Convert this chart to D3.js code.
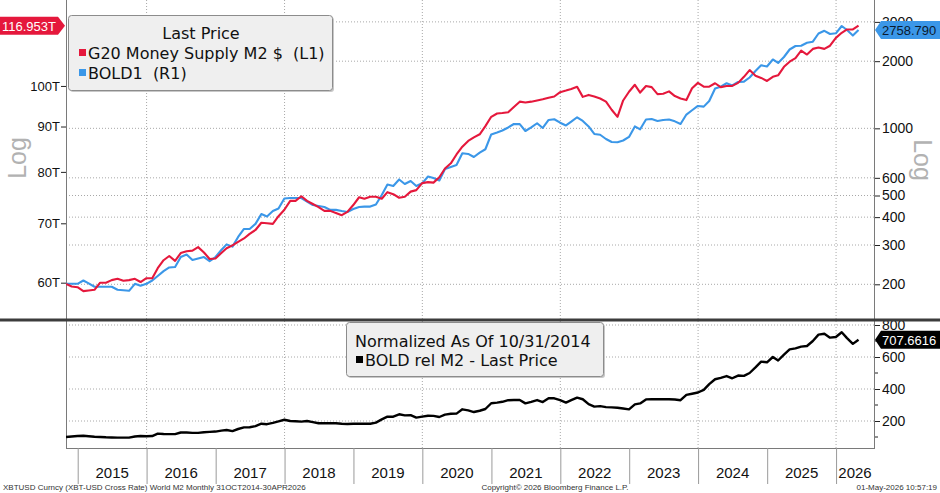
<!DOCTYPE html>
<html><head><meta charset="utf-8">
<script src="https://cdn.jsdelivr.net/npm/d3@7"></script>
<style>body{margin:0;background:#fff}svg{display:block}</style>
</head><body><svg id="c" width="940" height="493"></svg>
<script>
// ---------- data ----------
const startMonth = [2014, 9];   // Oct 2014 (month-end observations)
const endMonth = [2026, 3];     // Apr 2026
const yearLabels = ["2015","2016","2017","2018","2019","2020","2021","2022","2023","2024","2025","2026"];
const m2Values = [59.8,59.4,59.3,58.7,58.8,58.9,60.0,60.0,60.4,60.6,
  60.3,60.4,60.6,60.1,60.7,60.7,62.3,63.6,64.3,63.5,
  64.8,65.1,65.2,65.8,64.9,63.8,63.9,64.8,65.6,66.1,
  66.7,67.3,68.1,68.8,70.1,70.0,69.9,71.3,72.5,74.2,
  74.2,75.1,74.2,73.6,73.0,72.3,72.3,71.9,71.5,72.1,
  73.4,74.9,74.6,75.0,75.0,74.6,75.9,75.5,74.8,75.0,
  76.0,76.3,77.7,77.9,77.8,78.9,80.7,81.8,83.7,85.4,
  86.7,87.5,88.2,90.1,92.3,93.1,93.2,93.4,94.7,96.0,
  95.8,96.0,96.3,96.6,97.0,97.3,98.4,98.8,99.2,99.8,
  97.2,97.7,97.3,96.8,96.0,94.0,92.3,96.3,98.5,100.3,
  98.3,100.0,99.7,97.9,98.0,98.6,97.4,96.8,96.4,99.4,
  100.8,99.8,99.8,100.7,99.7,100.0,100.0,100.8,102.4,104.2,
  102.7,102.1,101.3,102.4,102.8,105.1,106.5,107.5,109.6,108.5,
  110.1,110.5,110.1,111.0,113.3,114.8,115.8,115.8,116.953];
const boldValues = [201,201,201,208,202,195,195,195,195,189,
  188,187,201,197,201,208,218,229,238,239,
  265,272,257,261,265,254,265,285,302,295,
  326,354,354,373,413,403,426,437,485,487,
  487,487,470,453,449,444,431,431,426,422,
  435,444,446,446,456,503,560,552,590,563,
  581,552,567,608,599,584,657,671,685,773,
  768,744,779,806,939,958,978,1009,1046,1044,
  973,1009,1054,1004,1090,1098,1060,1030,1071,1121,
  1079,1020,944,936,896,869,866,882,915,1020,
  990,1096,1101,1079,1090,1096,1075,1046,1153,1205,
  1260,1251,1326,1509,1537,1592,1556,1614,1619,1690,
  1807,1917,1893,2035,1963,2088,2256,2339,2346,2418,
  2445,2661,2736,2647,2666,2875,2759,2606,2758.79];
const relValues = [100,103,106,108,105,102,100,98,97,96,
  96,96,103,106,105,106,121,119,118,118,
  128,128,126,126,130,132,134,140,144,137,
  150,160,161,168,183,180,188,198,208,200,
  198,196,200,193,186,186,186,186,183,181,
  183,183,183,183,190,210,227,227,242,235,
  237,221,227,233,232,225,240,245,246,273,
  266,256,264,275,311,315,320,330,331,331,
  310,320,331,318,342,342,330,315,330,346,
  336,305,290,293,287,285,283,278,273,304,
  310,335,336,336,336,336,334,330,363,370,
  378,395,430,461,470,481,467,484,482,500,
  535,571,567,600,578,615,648,654,665,669,
  700,740,745,721,725,755,718,682,707.6616];
const leftTicks = [60,70,80,90,100];
const rightTicks = [200,300,400,500,600,1000,2000,3000];
const lowerTicks = [200,400,600,800];
const lowerMinorTicks = [100,300,500,700];
const lastLabels = {m2:"116.953T", bold:"2758.790", rel:"707.6616"};
const legendTop = ["Last Price","G20 Money Supply M2 $  (L1)","BOLD1  (R1)"];
const legendBottom = ["Normalized As Of 10/31/2014","BOLD rel M2 - Last Price"];
const footer = ["XBTUSD Curncy (XBT-USD Cross Rate) World M2 Monthly 31OCT2014-30APR2026",
  "Copyright\u00A9 2026 Bloomberg Finance L.P.","01-May-2026 10:57:19"];

// ---------- layout ----------
const W=940,H=493, L=66, R=874, T0=0, T1=319, SEP=320, B0=322, B1=448;
const RED="#e5183c", BLUE="#3b97e8", GRID="#a8a8a8", AX="#7a7a7a";
const FONT="'Liberation Sans', Arial, sans-serif";
const LFONT="'DejaVu Sans', Verdana, sans-serif";

const monthStarts = d3.utcMonth.range(new Date(Date.UTC(startMonth[0],startMonth[1],1)),
                                      new Date(Date.UTC(endMonth[0],endMonth[1]+1,1)));
const dates = monthStarts.map(m => d3.utcDay.offset(d3.utcMonth.offset(m,1),-1));

const x = d3.scaleUtc().domain([new Date(Date.UTC(2014,9,31)), new Date(Date.UTC(2026,6,21))]).range([L,R]);
const yL = d3.scaleLog().domain([54.6,125.0]).range([T1,T0]);
const yR = d3.scaleLog().domain([139.8,3760]).range([T1,T0]);
const yB = d3.scaleLinear().domain([0,800]).range([453,325]);

const svg = d3.select("#c");
svg.append("rect").attr("width",W).attr("height",H).attr("fill","#fff");
const defs = svg.append("defs");
defs.append("clipPath").attr("id","ct").append("rect").attr("x",L).attr("y",T0).attr("width",R-L).attr("height",T1-T0);
defs.append("clipPath").attr("id","cb").append("rect").attr("x",L).attr("y",B0).attr("width",R-L).attr("height",B1-B0);

const yearStarts = yearLabels.map(y => new Date(Date.UTC(+y,0,1)));

// vertical dotted gridlines at even years
svg.append("g").selectAll("line").data(yearStarts.filter(d=>d.getUTCFullYear()%2===0)).join("line")
  .attr("x1",d=>x(d)).attr("x2",d=>x(d)).attr("y1",T0).attr("y2",B1)
  .attr("stroke",GRID).attr("stroke-dasharray","1,2");
// horizontal gridlines top (right axis)
svg.append("g").selectAll("line").data(rightTicks).join("line")
  .attr("x1",L).attr("x2",R).attr("y1",d=>yR(d)).attr("y2",d=>yR(d))
  .attr("stroke",GRID).attr("stroke-dasharray","1,2");
// horizontal gridlines bottom
svg.append("g").selectAll("line").data(lowerTicks).join("line")
  .attr("x1",L).attr("x2",R).attr("y1",d=>yB(d)).attr("y2",d=>yB(d))
  .attr("stroke",GRID).attr("stroke-dasharray","1,2");

// axes lines
svg.append("line").attr("x1",L+0.5).attr("x2",L+0.5).attr("y1",T0).attr("y2",B1).attr("stroke",AX);
svg.append("line").attr("x1",R+0.5).attr("x2",R+0.5).attr("y1",T0).attr("y2",B1).attr("stroke",AX);
svg.append("line").attr("x1",L).attr("x2",R+1).attr("y1",B1+0.5).attr("y2",B1+0.5).attr("stroke",AX);

// left axis
const gl = svg.append("g").attr("transform",`translate(${L},0)`)
  .call(d3.axisLeft(yL).tickValues(leftTicks).tickFormat(d=>d+"T").tickSize(5).tickSizeOuter(0));
gl.select(".domain").remove();
gl.selectAll("text").attr("font-family",FONT).attr("font-size",13).attr("fill","#111").attr("x",-6);
gl.selectAll("line").attr("stroke","#222");

// right axis top
const gr = svg.append("g").attr("transform",`translate(${R+1},0)`)
  .call(d3.axisRight(yR).tickValues(rightTicks).tickFormat(d3.format("d")).tickSize(5).tickSizeOuter(0));
gr.select(".domain").remove();
gr.selectAll("text").attr("font-family",FONT).attr("font-size",14).attr("fill","#111").attr("x",7);
gr.selectAll("line").attr("stroke","#222");

// right axis bottom
const gb = svg.append("g").attr("transform",`translate(${R+1},0)`)
  .call(d3.axisRight(yB).tickValues(lowerTicks).tickFormat(d3.format("d")).tickSize(5).tickSizeOuter(0));
gb.select(".domain").remove();
gb.selectAll("text").attr("font-family",FONT).attr("font-size",14).attr("fill","#111").attr("x",7);
gb.selectAll("line").attr("stroke","#222");
svg.append("g").selectAll("line").data(lowerMinorTicks).join("line")
  .attr("x1",R+1).attr("x2",R+4).attr("y1",d=>yB(d)).attr("y2",d=>yB(d)).attr("stroke","#222");

// x axis: year separators and labels
svg.append("g").selectAll("line").data(yearStarts).join("line")
  .attr("x1",d=>x(d)+0.5).attr("x2",d=>x(d)+0.5).attr("y1",B1).attr("y2",484)
  .attr("stroke","#9a9a9a");
svg.append("g").selectAll("text").data(yearStarts).join("text")
  .attr("x",(d,i)=>{const e = i<yearStarts.length-1 ? x(yearStarts[i+1]) : R; return (x(d)+e)/2;})
  .attr("y",478).attr("text-anchor","middle").attr("font-family",FONT).attr("font-size",15).attr("fill","#111")
  .text((d,i)=>yearLabels[i]);

// lines
const lineL = d3.line().x((d,i)=>x(dates[i])).y(d=>yL(d));
const lineR = d3.line().x((d,i)=>x(dates[i])).y(d=>yR(d));
const lineB = d3.line().x((d,i)=>x(dates[i])).y(d=>yB(d));
svg.append("path").datum(boldValues).attr("d",lineR).attr("fill","none").attr("stroke",BLUE)
  .attr("stroke-width",2.1).attr("stroke-linejoin","round").attr("clip-path","url(#ct)");
svg.append("path").datum(m2Values).attr("d",lineL).attr("fill","none").attr("stroke",RED)
  .attr("stroke-width",2.1).attr("stroke-linejoin","round").attr("clip-path","url(#ct)");
svg.append("path").datum(relValues).attr("d",lineB).attr("fill","none").attr("stroke","#000")
  .attr("stroke-width",2.4).attr("stroke-linejoin","round").attr("clip-path","url(#cb)");

// separator
svg.append("rect").attr("x",0).attr("y",SEP-1.5).attr("width",W).attr("height",3).attr("fill","#3c3c3c");

// legends
function legendBox(x0,y0,w,h){
  svg.append("rect").attr("x",x0+1.5).attr("y",y0+1.5).attr("width",w).attr("height",h).attr("rx",3).attr("fill","#c8c8c8");
  svg.append("rect").attr("x",x0).attr("y",y0).attr("width",w).attr("height",h).attr("rx",3)
    .attr("fill","#efefef").attr("stroke","#8c8c8c");
}
legendBox(68.5,15.5,264,75);
svg.append("text").attr("x",201).attr("y",39).attr("text-anchor","middle").attr("font-family",LFONT)
  .attr("font-size",16).attr("fill","#111").text(legendTop[0]);
svg.append("rect").attr("x",79).attr("y",49).attr("width",7).attr("height",7).attr("fill",RED);
svg.append("text").attr("x",88).attr("y",59).attr("font-family",LFONT).attr("font-size",16)
  .attr("fill","#111").style("white-space","pre").text(legendTop[1]);
svg.append("rect").attr("x",79).attr("y",69).attr("width",7).attr("height",7).attr("fill",BLUE);
svg.append("text").attr("x",88).attr("y",79).attr("font-family",LFONT).attr("font-size",16)
  .attr("fill","#111").style("white-space","pre").text(legendTop[2]);

legendBox(346.5,322.5,257,54);
svg.append("text").attr("x",355).attr("y",347).attr("font-family",LFONT).attr("font-size",16)
  .attr("fill","#111").text(legendBottom[0]);
svg.append("rect").attr("x",356).attr("y",356).attr("width",7).attr("height",7).attr("fill","#000");
svg.append("text").attr("x",365).attr("y",366).attr("font-family",LFONT).attr("font-size",16)
  .attr("fill","#111").text(legendBottom[1]);

// Log labels
svg.append("text").attr("transform","translate(26,158) rotate(-90)").attr("text-anchor","middle")
  .attr("font-family",FONT).attr("font-size",25).attr("fill","#b2b2b2").text("Log");
svg.append("text").attr("transform","translate(914,160) rotate(90)").attr("text-anchor","middle")
  .attr("font-family",FONT).attr("font-size",25).attr("fill","#b2b2b2").text("Log");

// value tags
const yTagL = yL(m2Values[m2Values.length-1]);
svg.append("path").attr("d",`M0,${yTagL-9}H58L65,${yTagL}L58,${yTagL+9}H0Z`).attr("fill",RED);
svg.append("text").attr("x",2).attr("y",yTagL+5).attr("font-family",FONT).attr("font-size",13)
  .attr("fill","#fff").text(lastLabels.m2);
function rightTag(y,fill,tc,label){
  svg.append("path").attr("d",`M${R+1},${y}L${R+7},${y-9}H${W}V${y+9}H${R+7}Z`).attr("fill",fill);
  svg.append("text").attr("x",R+8).attr("y",y+5).attr("font-family",FONT).attr("font-size",13)
    .attr("fill",tc).text(label);
}
rightTag(yR(boldValues[boldValues.length-1]),BLUE,"#0b1a2e",lastLabels.bold);
rightTag(yB(relValues[relValues.length-1]),"#000","#fff",lastLabels.rel);

// footer
svg.append("text").attr("x",3).attr("y",490).attr("font-family",FONT).attr("font-size",8).attr("fill","#333").text(footer[0]);
svg.append("text").attr("x",555).attr("y",490).attr("text-anchor","middle").attr("font-family",FONT).attr("font-size",8).attr("fill","#333").text(footer[1]);
svg.append("text").attr("x",937).attr("y",490).attr("text-anchor","end").attr("font-family",FONT).attr("font-size",8).attr("fill","#333").text(footer[2]);
</script></body></html>
